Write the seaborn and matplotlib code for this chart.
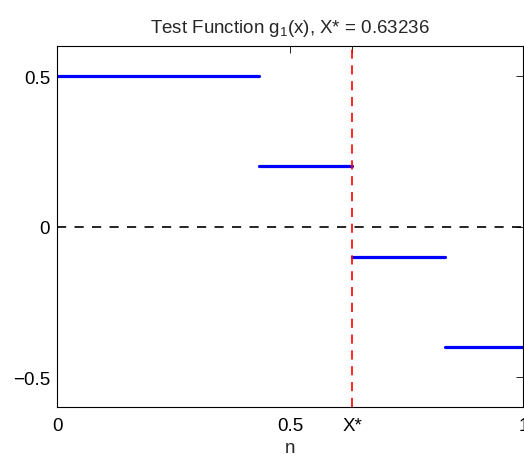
import seaborn as sns
import pandas as pd
import matplotlib
matplotlib.use("Agg")
import matplotlib.pyplot as plt

# Values
x_star = 0.63236
seg_start = [0.0, 0.43236, 0.63236, 0.83236]
seg_end = [0.43236, 0.63236, 0.83236, 1.0]
seg_value = [0.5, 0.2, -0.1, -0.4]
x_ticks = [0, 0.5, x_star, 1]
x_tick_labels = ['0', '0.5', 'X*', '1']
y_ticks = [-0.5, 0, 0.5]
y_tick_labels = ['\u22120.5', '0', '0.5']

# Long table: two points per step segment
rows = []
for i, (a, b, v) in enumerate(zip(seg_start, seg_end, seg_value)):
    rows.append({'seg': i, 'x': a, 'y': v})
    rows.append({'seg': i, 'x': b, 'y': v})
df = pd.DataFrame(rows)

sns.set_style('white')
plt.rcParams['font.family'] = ['Liberation Sans', 'DejaVu Sans']
plt.rcParams['mathtext.fontset'] = 'custom'
plt.rcParams['mathtext.rm'] = 'Liberation Sans'
plt.rcParams['mathtext.it'] = 'Liberation Sans'

fs = 13.5

fig = plt.figure(figsize=(5.24, 4.56), dpi=100)
ax = fig.add_axes([0.109, 0.105, 0.89, 0.792])

# Step segments
sns.lineplot(data=df, x='x', y='y', units='seg', estimator=None,
             color='#0000ff', linewidth=2.3, ax=ax, legend=False)

# Reference lines
ax.axhline(0, color='black', linestyle=(0, (5.5, 5)), linewidth=1.2)
ax.axvline(x_star, color='red', linestyle=(0, (5.5, 4)), linewidth=1.2)

ax.set_xlim(0, 1)
ax.set_ylim(-0.6, 0.6)
ax.set_xticks(x_ticks)
ax.set_xticklabels(x_tick_labels)
ax.set_yticks(y_ticks)
ax.set_yticklabels(y_tick_labels)
ax.tick_params(direction='in', length=5, width=0.6, labelsize=fs,
               top=True, right=True, colors='black', pad=5)
ax.tick_params(axis='x', pad=7)

for s in ax.spines.values():
    s.set_visible(True)
    s.set_color('black')
    s.set_linewidth(0.8)

ax.set_xlabel('n', fontsize=fs, labelpad=4)
ax.set_ylabel('')
ax.set_title('Test Function g$_\\mathrm{1}$(x), X* = 0.63236', fontsize=fs, pad=10)

fig.savefig('out.png', dpi=100)
